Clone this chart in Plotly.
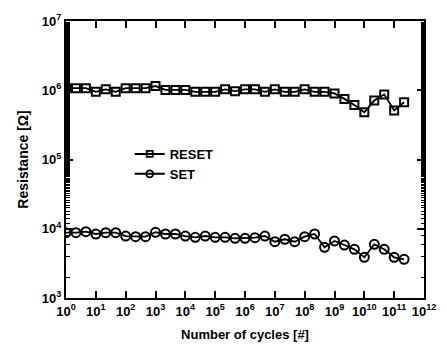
import numpy as np
import plotly.graph_objects as go

# cycles: 10^(k/3), k = 0..34
cycle_exp = [k / 3 for k in range(35)]
cycles = [10 ** e for e in cycle_exp]

reset_ohm = [1.07e6, 1.07e6, 1.07e6, 0.95e6, 1.03e6, 0.95e6, 1.07e6, 1.07e6, 1.07e6, 1.15e6,
             1.01e6, 1.01e6, 1.01e6, 0.95e6, 0.95e6, 0.95e6, 1.03e6, 0.97e6, 1.03e6, 1.03e6,
             0.95e6, 1.03e6, 0.95e6, 0.95e6, 1.03e6, 0.95e6, 0.95e6, 0.90e6, 0.75e6, 0.61e6,
             0.48e6, 0.71e6, 0.87e6, 0.51e6, 0.67e6]

set_ohm = [8770, 8770, 9060, 8400, 8770, 8770, 7850, 7680, 7680, 8890,
           8400, 8400, 7850, 7530, 7850, 7530, 7530, 7280, 7280, 7430,
           7850, 6500, 7050, 6500, 7680, 8400, 5400, 6660, 5820, 5050,
           3870, 5960, 5050, 3870, 3620]

x_tickvals = [10 ** i for i in range(13)]
x_ticktext = ["10<sup>%d</sup>" % i for i in range(13)]
y_tickvals = [10 ** i for i in range(3, 8)]
y_ticktext = ["10<sup>%d</sup>" % i for i in range(3, 8)]

font_family = "Liberation Sans, Arial, sans-serif"

fig = go.Figure()
fig.add_trace(go.Scatter(
    x=cycles, y=reset_ohm, name="RESET", mode="lines+markers", showlegend=False,
    line=dict(color="black", width=1.8),
    marker=dict(symbol="square-open", size=8, color="black", line=dict(width=2, color="black")),
))
fig.add_trace(go.Scatter(
    x=cycles, y=set_ohm, name="SET", mode="lines+markers", showlegend=False,
    line=dict(color="black", width=1.8),
    marker=dict(symbol="circle-open", size=9, color="black", line=dict(width=2, color="black")),
))
# legend entries (smaller symbols, as in the reference legend)
fig.add_trace(go.Scatter(
    x=[None], y=[None], name="RESET", mode="lines+markers",
    line=dict(color="black", width=2),
    marker=dict(symbol="square-open", size=6, color="black", line=dict(width=1.8, color="black")),
))
fig.add_trace(go.Scatter(
    x=[None], y=[None], name="SET", mode="lines+markers",
    line=dict(color="black", width=2),
    marker=dict(symbol="circle-open", size=7, color="black", line=dict(width=1.8, color="black")),
))

axis_common = dict(
    showline=True, linecolor="black", linewidth=2, mirror="allticks",
    ticks="inside", ticklen=7, tickwidth=1.5, tickcolor="black",
    showgrid=False, zeroline=False,
    tickfont=dict(family=font_family, size=13, color="black", weight="bold"),
    minor=dict(ticks="inside", ticklen=3.5, tickwidth=1, tickcolor="black", showgrid=False),
)

fig.update_xaxes(
    type="log", range=[0, 12], tickvals=x_tickvals, ticktext=x_ticktext,
    title=dict(text="Number of cycles [#]", font=dict(family=font_family, size=13, color="black", weight="bold"), standoff=12),
    **axis_common,
)
fig.update_yaxes(
    type="log", range=[3, 7], tickvals=y_tickvals, ticktext=y_ticktext,
    title=dict(text="Resistance [Ω]", font=dict(family=font_family, size=14, color="black", weight="bold"), standoff=10),
    **axis_common,
)

fig.update_layout(
    width=447, height=352,
    margin=dict(l=66, r=11, t=21, b=54),
    paper_bgcolor="white", plot_bgcolor="white",
    showlegend=True,
    legend=dict(x=0.178, y=0.574, xanchor="left", yanchor="top",
                bgcolor="rgba(0,0,0,0)", font=dict(family=font_family, size=13, color="black", weight="bold"),
                tracegroupgap=0, itemwidth=30),
    font=dict(family=font_family, color="black", weight="bold"),
)

fig.write_html("out.html")
